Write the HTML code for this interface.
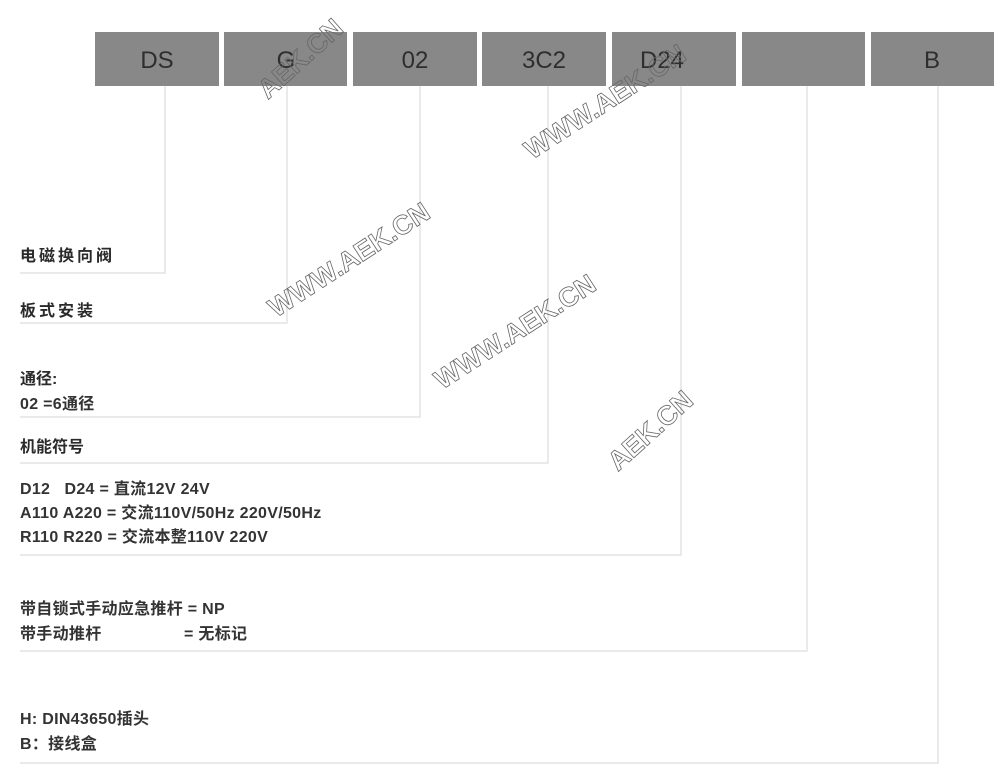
<!DOCTYPE html>
<html><head><meta charset="utf-8"><style>
html,body{margin:0;padding:0;background:#fff;}
svg{display:block;}
.t{font-family:"Liberation Sans","Noto Sans CJK SC",sans-serif;fill:#2a2a2a;}
.b{font-size:24px;fill:#2e2e2e;}
.l{font-size:16px;font-weight:bold;letter-spacing:3px;}
.n{font-size:16px;letter-spacing:0.3px;font-weight:bold;fill:#333;}
.w{font-family:"Liberation Sans",sans-serif;font-size:27px;font-weight:bold;fill:none;stroke:#666;stroke-width:0.8;}
</style></head><body>
<svg width="1000" height="767" viewBox="0 0 1000 767" xmlns="http://www.w3.org/2000/svg">
<g fill="#888">
<rect x="95" y="32" width="124" height="54"/>
<rect x="224" y="32" width="123" height="54"/>
<rect x="353" y="32" width="124" height="54"/>
<rect x="482" y="32" width="124" height="54"/>
<rect x="612" y="32" width="124" height="54"/>
<rect x="742" y="32" width="123" height="54"/>
<rect x="871" y="32" width="123" height="54"/>
</g>
<g class="t b" text-anchor="middle">
<text x="157" y="68">DS</text><text x="286" y="68">G</text><text x="415" y="68">02</text>
<text x="544" y="68">3C2</text><text x="662" y="68">D24</text><text x="932" y="68">B</text>
</g>
<g fill="none" stroke="#ddd" stroke-width="1.2">
<polyline points="165,86 165,273 20,273"/>
<polyline points="287,86 287,323 20,323"/>
<polyline points="420,86 420,417 20,417"/>
<polyline points="548,86 548,463 20,463"/>
<polyline points="681,86 681,555 20,555"/>
<polyline points="807,86 807,651 20,651"/>
<polyline points="938,86 938,763 20,763"/>
</g>
<g class="t">
<text class="l" x="20" y="261">电磁换向阀</text>
<text class="l" x="20" y="316">板式安装</text>
<text class="l" x="20" y="384" style="letter-spacing:0">通径:</text>
<text class="n" x="20" y="409">02 =6通径</text>
<text class="l" x="20" y="452" style="letter-spacing:0">机能符号</text>
<text class="n" x="20" y="494">D12 &#160; D24 = 直流12V 24V</text>
<text class="n" x="20" y="518">A110 A220 = 交流110V/50Hz 220V/50Hz</text>
<text class="n" x="20" y="542">R110 R220 = 交流本整110V 220V</text>
<text class="n" x="20" y="614">带自锁式手动应急推杆 = NP</text>
<text class="n" x="20" y="639">带手动推杆 <tspan x="184">= 无标记</tspan></text>
<text class="n" x="20" y="724">H: DIN43650插头</text>
<text class="n" x="20" y="749">B：接线盒</text>
</g>
<g class="w">
<text transform="translate(268,100) rotate(-42)">AEK.CN</text>
<text transform="translate(532,160) rotate(-33)">WWW.AEK.CN</text>
<text transform="translate(276,318) rotate(-33)">WWW.AEK.CN</text>
<text transform="translate(442,390) rotate(-33)">WWW.AEK.CN</text>
<text transform="translate(618,472) rotate(-42)">AEK.CN</text>
</g>
</svg>
</body></html>
